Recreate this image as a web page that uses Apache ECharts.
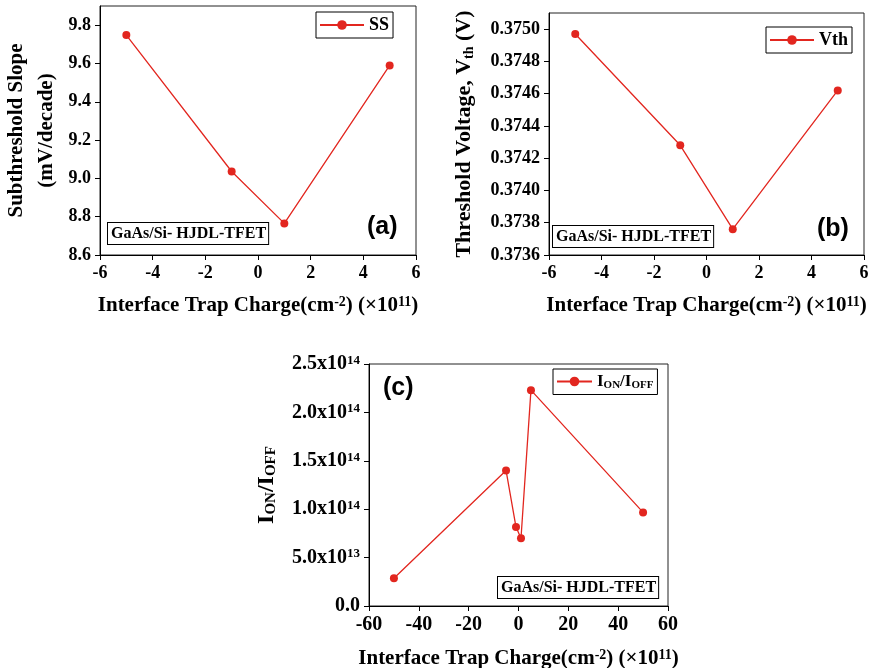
<!DOCTYPE html>
<html>
<head>
<meta charset="utf-8">
<script src="https://cdn.jsdelivr.net/npm/echarts@6/dist/echarts.min.js"></script>
<style>
  html, body { margin: 0; padding: 0; background: #fff; }
  #chart { width: 877px; height: 668px; }
</style>
</head>
<body>
<div id="chart"></div>
<script>
// Interface trap charge (x10^11 cm^-2) for panels (a) and (b)
const chargeAB = [-5, -1, 1, 5];
// Subthreshold slope, mV/decade
const ssValues = [9.748, 9.036, 8.765, 9.59];
// Threshold voltage, V
const vthValues = [0.37497, 0.37428, 0.37376, 0.37462];
// Interface trap charge for panel (c)
const chargeC = [-50, -5, -1, 1, 5, 50];
// ON/OFF current ratio
const ratioValues = [2.87e13, 1.40e14, 8.15e13, 7.0e13, 2.23e14, 9.67e13];

const RED = '#e2261f';
const SERIF = 'Liberation Serif';

const pairs = (xs, ys) => xs.map((x, i) => [x, ys[i]]);

const tickFont = size => ({ fontFamily: SERIF, fontWeight: 'bold', fontSize: size, color: '#000' });
const supStyle = size => ({ fontFamily: SERIF, fontWeight: 'bold', fontSize: size, verticalAlign: 'top', color: '#000', padding: [0, 0, Math.round(size * 0.5), 0] });

const xTitle = 'Interface Trap Charge(cm{sup|-2}) (\u00d710{sup|11})';
const xNameStyle = {
  fontFamily: SERIF, fontWeight: 'bold', fontSize: 21, color: '#000',
  rich: { sup: supStyle(14) }
};

function xAxisCfg(gridIndex, min, max, interval, gap, fsize) {
  return {
    type: 'value', gridIndex, min, max, interval,
    name: xTitle, nameLocation: 'middle', nameGap: gap,
    nameTextStyle: xNameStyle,
    axisLine: { show: true, onZero: false, lineStyle: { color: '#000', width: 1 } },
    axisTick: { show: true, inside: false, length: 5, lineStyle: { color: '#000' } },
    axisLabel: Object.assign({ margin: 9 }, tickFont(fsize)),
    splitLine: { show: false }
  };
}

function yAxisCfg(gridIndex, min, max, interval, fmt, name, nameStyle, gap, fsize, showMax) {
  return {
    type: 'value', gridIndex, min, max, interval,
    name, nameLocation: 'middle', nameGap: gap, nameRotate: 90,
    nameTextStyle: nameStyle,
    axisLine: { show: true, onZero: false, lineStyle: { color: '#000', width: 1 } },
    axisTick: { show: true, inside: false, length: 5, lineStyle: { color: '#000' } },
    axisLabel: Object.assign({ margin: 9, formatter: fmt, showMaxLabel: showMax, rich: { sup: supStyle(13) } }, tickFont(fsize)),
    splitLine: { show: false }
  };
}

// Scientific label like 2.5x10^14
function sciLabel(v) {
  if (v === 0) return '0.0';
  const e = Math.floor(Math.log10(v) + 1e-9);
  const m = v / Math.pow(10, e);
  return m.toFixed(1) + 'x10{sup|' + e + '}';
}

const lineSeries = (name, xi, data) => ({
  name, type: 'line', xAxisIndex: xi, yAxisIndex: xi, data,
  symbol: 'circle', symbolSize: 8,
  itemStyle: { color: RED },
  lineStyle: { color: RED, width: 1.3 },
  animation: false
});

const legendCfg = (name, left, top, itemWidth, itemGap) => ({
  data: [name], left, top, orient: 'horizontal',
  borderColor: '#000', borderWidth: 1, borderRadius: 0,
  padding: [4, 4, 4, 3], itemWidth, itemHeight: 12, itemGap,
  textStyle: {
    fontFamily: SERIF, fontWeight: 'bold', fontSize: 18, color: '#000',
    rich: { sub: { fontFamily: SERIF, fontWeight: 'bold', fontSize: 11, color: '#000', padding: [7, 0, 0, 0] },
            main: { fontFamily: SERIF, fontWeight: 'bold', fontSize: 17, color: '#000' } }
  },
  formatter: n => n === 'ION/IOFF' ? '{main|I}{sub|ON}{main|/I}{sub|OFF}' : n
});

const tag = (x, y) => ({
  type: 'text', left: x, top: y,
  style: {
    text: 'GaAs/Si- HJDL-TFET', font: 'bold 16px "Liberation Serif"', fill: '#000',
    backgroundColor: '#fff', borderColor: '#000', borderWidth: 1, padding: [3, 2, 2, 3]
  }
});

const panelLabel = (txt, x, y) => ({
  type: 'text', left: x, top: y,
  style: { text: txt, font: 'bold 25px "Liberation Sans"', fill: '#000' }
});

const gridCfg = (left, top, width, height) => ({
  left, top, width, height, show: true, borderColor: '#222', borderWidth: 1,
  containLabel: false, outerBoundsMode: 'none'
});

const chart = echarts.init(document.getElementById('chart'), null, { renderer: 'canvas' });

chart.setOption({
  backgroundColor: '#fff',
  animation: false,
  grid: [
    gridCfg(100, 6, 316, 249),
    gridCfg(549, 13, 315, 242),
    gridCfg(369, 364, 299, 242)
  ],
  xAxis: [
    xAxisCfg(0, -6, 6, 2, 40, 18),
    xAxisCfg(1, -6, 6, 2, 40, 18),
    xAxisCfg(2, -60, 60, 20, 42, 20)
  ],
  yAxis: [
    yAxisCfg(0, 8.6, 9.9, 0.2, v => v.toFixed(1),
      'Subthreshold Slope\n(mV/decade)',
      { fontFamily: SERIF, fontWeight: 'bold', fontSize: 21, color: '#000', lineHeight: 30 }, 38, 18, false),
    yAxisCfg(1, 0.3736, 0.3751, 0.0002, v => v.toFixed(4),
      'Threshold Voltage, V{sub|th} (V)',
      { fontFamily: SERIF, fontWeight: 'bold', fontSize: 22, color: '#000',
        rich: { sub: { fontFamily: SERIF, fontWeight: 'bold', fontSize: 14, color: '#000', padding: [9, 0, 0, 0] } } }, 73, 18, false),
    yAxisCfg(2, 0, 2.5e14, 5e13, sciLabel,
      'I{sub|ON}/I{sub|OFF}',
      { fontFamily: SERIF, fontWeight: 'bold', fontSize: 24, color: '#000',
        rich: { sub: { fontFamily: SERIF, fontWeight: 'bold', fontSize: 15, color: '#000', padding: [10, 0, 0, 0] } } }, 90, 20, true)
  ],
  legend: [
    legendCfg('SS', 316, 12, 44, 4),
    legendCfg('Vth', 766, 27, 44, 4),
    legendCfg('ION/IOFF', 553, 369, 35, 2)
  ],
  series: [
    lineSeries('SS', 0, pairs(chargeAB, ssValues)),
    lineSeries('Vth', 1, pairs(chargeAB, vthValues)),
    lineSeries('ION/IOFF', 2, pairs(chargeC, ratioValues))
  ],
  graphic: [
    tag(107, 222), tag(552, 225), tag(497, 576),
    panelLabel('(a)', 367, 215), panelLabel('(b)', 817, 217), panelLabel('(c)', 383, 376)
  ]
});
</script>
</body>
</html>
